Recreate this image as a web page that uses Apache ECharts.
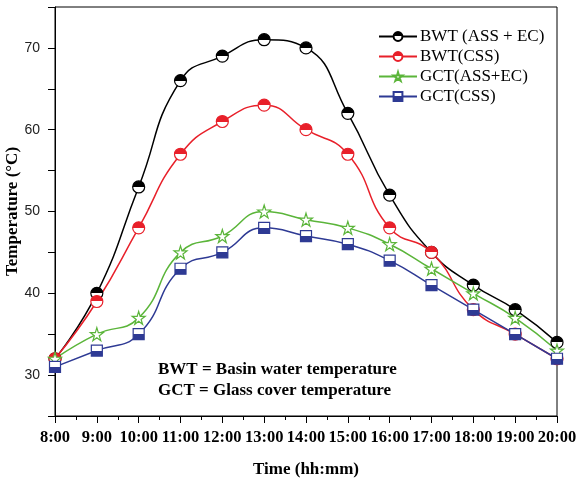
<!DOCTYPE html>
<html>
<head>
  <meta charset="UTF-8">
  <title>Temperature chart</title>
  <script src="https://cdn.jsdelivr.net/npm/echarts@6/dist/echarts.min.js"></script>
</head>
<style type="text/css">
    html,body {padding: 0; margin: 0; background: #fff;}
    #chart {width: 583px; height: 480px;}
</style>
<body>
<div id="chart"></div>
<script type="text/javascript">
    // hours of the day (8:00 .. 20:00)
    var hours = [8, 9, 10, 11, 12, 13, 14, 15, 16, 17, 18, 19, 20];
    var bwtAss = [32, 40, 53, 66, 69, 71, 70, 62, 52, 45, 41, 38, 34];
    var bwtCss = [32, 39, 48, 57, 61, 63, 60, 57, 48, 45, 38, 35, 32];
    var gctAss = [32, 35, 37, 45, 47, 50, 49, 48, 46, 43, 40, 37, 33];
    var gctCss = [31, 33, 35, 43, 45, 48, 47, 46, 44, 41, 38, 35, 32];
    var seriesNames = ['BWT (ASS + EC)', 'BWT(CSS)', 'GCT(ASS+EC)', 'GCT(CSS)'];

    var STAR = 'path://M50,0 L61,35 L98,35 L68,57 L79,91 L50,70 L21,91 L32,57 L2,35 L39,35 Z';

    function pairs(vals) {
        return hours.map(function (h, i) { return [h, vals[i]]; });
    }
    // half filled marker fill
    function half(col, topFilled) {
        var a = topFilled ? col : '#fff', b = topFilled ? '#fff' : col;
        return {type: 'linear', x: 0, y: 0, x2: 0, y2: 1,
            colorStops: [{offset: 0, color: a}, {offset: 0.5, color: a},
                         {offset: 0.5, color: b}, {offset: 1, color: b}]};
    }
    function line(name, vals, col, symbol, fill, size) {
        return {
            name: name, type: 'line', smooth: true, data: pairs(vals),
            symbol: symbol, symbolSize: size,
            lineStyle: {color: col, width: 1.5},
            itemStyle: {color: fill, borderColor: col, borderWidth: 1.2},
            emphasis: {disabled: true}
        };
    }

    var serif = '"Liberation Serif", "Times New Roman", serif';
    var chart = echarts.init(document.getElementById('chart'));
    var option = {
        animation: false,
        grid: {left: 55, right: 26, top: 7, bottom: 64, outerBoundsMode: 'none',
               show: true, borderColor: '#000', borderWidth: 1},
        legend: {
            orient: 'vertical', left: 373, top: 23, itemWidth: 38, itemHeight: 11, itemGap: 3,
            textStyle: {fontFamily: serif, fontSize: 17, color: '#000', padding: [0, 0, 0, -2]},
            data: seriesNames
        },
        xAxis: {
            type: 'value', min: 8, max: 20, interval: 1,
            name: 'Time (hh:mm)', nameLocation: 'middle', nameGap: 45,
            nameTextStyle: {fontFamily: serif, fontWeight: 'bold', fontSize: 17, color: '#000'},
            axisLine: {lineStyle: {color: '#000', width: 1}},
            axisTick: {length: 7, lineStyle: {color: '#000'}},
            minorTick: {show: true, splitNumber: 2, length: 4, lineStyle: {color: '#000'}},
            splitLine: {show: false},
            axisLabel: {
                margin: 13, fontFamily: serif, fontWeight: 'bold', fontSize: 16.5, color: '#000',
                formatter: function (v) { return v + ':00'; }
            }
        },
        yAxis: {
            type: 'value', min: 25, max: 75, interval: 5,
            name: 'Temperature (°C)', nameLocation: 'middle', nameGap: 34, nameMoveOverlap: false,
            nameTextStyle: {fontFamily: serif, fontWeight: 'bold', fontSize: 17, color: '#000'},
            axisLine: {show: true, lineStyle: {color: '#000', width: 1}},
            axisTick: {show: true, length: 7, lineStyle: {color: '#000'}},
            splitLine: {show: false},
            axisLabel: {
                margin: 15, fontFamily: 'Arial, "Liberation Sans", sans-serif', fontSize: 14, color: '#222',
                formatter: function (v) { return v % 10 === 0 && v > 25 && v < 75 ? v : ''; }
            }
        },
        graphic: [
            {type: 'text', left: 158, top: 361, style: {text: 'BWT = Basin water temperature',
                font: 'bold 17px ' + serif, fill: '#000'}},
            {type: 'text', left: 158, top: 382, style: {text: 'GCT = Glass cover temperature',
                font: 'bold 17px ' + serif, fill: '#000'}}
        ],
        series: [
            line(seriesNames[0], bwtAss, '#000', 'circle', half('#000', true), 12),
            line(seriesNames[1], bwtCss, '#e8202a', 'circle', half('#e8202a', true), 12),
            line(seriesNames[2], gctAss, '#5bb53a', STAR, '#fff', 13),
            line(seriesNames[3], gctCss, '#2e3a94', 'rect', half('#2e3a94', false), 11)
        ]
    };
    chart.setOption(option);
</script>
</body>
</html>
